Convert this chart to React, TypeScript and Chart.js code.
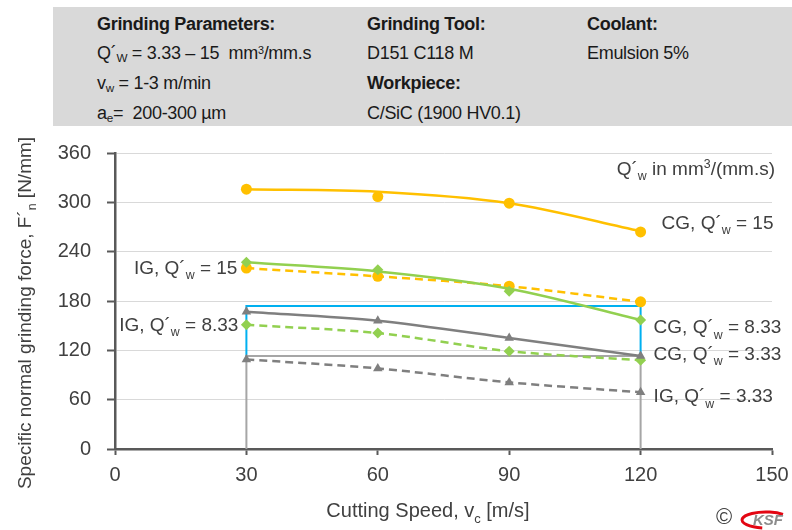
import React, { useEffect, useRef } from "react";
import { Chart, registerables } from "chart.js";

Chart.register(...registerables);

// ---- data ----
const speeds = [30, 60, 90, 120];
const cg15 = [316, 307, 299, 264];
const cg15Trend = [316, 313, 299, 265];
const ig15 = [220, 210, 198, 179];
const cg833 = [227, 218, 192, 157];
const cg833Trend = [227, 216, 195, 157];
const ig833 = [151, 141, 119, 108];
const cg333 = [167, 156, 135, 113];
const ig333 = [109, 98, 81, 69];

const blueRectX = [30, 30, 120, 120];
const blueRectY = [113, 174, 174, 113];
const greyRectX = [30, 30, 120, 120];
const greyRectY = [0, 113, 113, 0];

const xTicks = [0, 30, 60, 90, 120, 150];
const yTicks = [0, 60, 120, 180, 240, 300, 360];

const FONT = "'Liberation Sans', Arial, sans-serif";
const TXT = "#404040";
const ORANGE = "#FFC000";
const GREEN = "#92D050";
const GREY = "#7F7F7F";

const pts = (xs: number[], ys: number[]) => xs.map((x, i) => ({ x, y: ys[i] }));

type Part = { t: string; sub?: boolean; sup?: boolean };

function drawRich(ctx: CanvasRenderingContext2D, parts: Part[], x: number, yc: number, align: "left" | "right" | "center", size: number, color: string) {
  const small = size * 0.65;
  let total = 0;
  const widths = parts.map((p) => {
    ctx.font = `${p.sub || p.sup ? small : size}px ${FONT}`;
    const w = ctx.measureText(p.t).width;
    total += w;
    return w;
  });
  let cx = align === "left" ? x : align === "right" ? x - total : x - total / 2;
  const base = yc + size * 0.36;
  ctx.fillStyle = color;
  ctx.textBaseline = "alphabetic";
  ctx.textAlign = "left";
  parts.forEach((p, i) => {
    ctx.font = `${p.sub || p.sup ? small : size}px ${FONT}`;
    const dy = p.sub ? size * 0.28 : p.sup ? -size * 0.38 : 0;
    ctx.fillText(p.t, cx, base + dy);
    cx += widths[i];
  });
}

const qw = (val: string, prefix: string): Part[] => [
  { t: prefix + ", Q\u00B4" },
  { t: "w", sub: true },
  { t: " = " + val },
];

const labelsPlugin = {
  id: "labels",
  afterDraw(chart: any) {
    const ctx: CanvasRenderingContext2D = chart.ctx;
    const xs = chart.scales.x;
    const ys = chart.scales.y;
    ctx.save();
    const right = xs.getPixelForValue(120) + 13;
    const left = xs.getPixelForValue(30) - 9;
    drawRich(ctx, qw("15", "CG"), right + 8, ys.getPixelForValue(276), "left", 19, TXT);
    drawRich(ctx, qw("8.33", "CG"), right, ys.getPixelForValue(149), "left", 19, TXT);
    drawRich(ctx, qw("3.33", "CG"), right, ys.getPixelForValue(117), "left", 19, TXT);
    drawRich(ctx, qw("3.33", "IG"), right, ys.getPixelForValue(65), "left", 19, TXT);
    drawRich(ctx, qw("15", "IG"), left, ys.getPixelForValue(221.5), "right", 19, TXT);
    drawRich(ctx, qw("8.33", "IG"), left + 1, ys.getPixelForValue(152), "right", 19, TXT);
    drawRich(
      ctx,
      [{ t: "Q\u00B4" }, { t: "w", sub: true }, { t: " in mm" }, { t: "3", sup: true }, { t: "/(mm.s)" }],
      775,
      ys.getPixelForValue(341.5),
      "right",
      19,
      TXT
    );
    // axis titles
    drawRich(ctx, [{ t: "Cutting Speed, v" }, { t: "c", sub: true }, { t: " [m/s]" }], 428, 510, "center", 20, TXT);
    ctx.save();
    ctx.translate(24, 313);
    ctx.rotate(-Math.PI / 2);
    drawRich(
      ctx,
      [{ t: "Specific normal grinding force, F\u00B4" }, { t: "n", sub: true }, { t: " [N/mm]" }],
      0,
      0,
      "center",
      19,
      TXT
    );
    ctx.restore();
    // copyright + logo
    ctx.fillStyle = "#404040";
    ctx.font = `22px ${FONT}`;
    ctx.textAlign = "center";
    ctx.textBaseline = "middle";
    ctx.fillText("\u00A9", 724, 518);
    ctx.strokeStyle = "#E30613";
    ctx.lineWidth = 3;
    ctx.beginPath();
    ctx.ellipse(766, 520, 24, 8, 0, Math.PI * 0.55, Math.PI * 1.75);
    ctx.stroke();
    ctx.fillStyle = "#8C8C8C";
    ctx.font = `italic bold 15px ${FONT}`;
    ctx.fillText("KSF", 768, 521);
    ctx.restore();
  },
};

function Header() {
  const base: React.CSSProperties = {
    position: "absolute",
    fontFamily: FONT,
    fontSize: 18,
    lineHeight: "20px",
    color: "#1a1a1a",
    whiteSpace: "nowrap",
    letterSpacing: "-0.3px",
  };
  const sub: React.CSSProperties = { fontSize: "0.65em", verticalAlign: "-0.25em", lineHeight: 0 };
  const sup: React.CSSProperties = { fontSize: "0.6em", verticalAlign: "0.5em", lineHeight: 0 };
  const rows = [14, 43, 73, 103];
  return (
    <div>
      <div style={{ position: "absolute", left: 53, top: 7, width: 739, height: 119, background: "#D9D9D9" }} />
      <div style={{ ...base, left: 97, top: rows[0], fontWeight: "bold" }}>Grinding Parameters:</div>
      <div style={{ ...base, left: 97, top: rows[1] }}>
        Q{"\u00B4"}<span style={sub}>W</span> = 3.33 – 15&nbsp; mm<span style={sup}>3</span>/mm.s
      </div>
      <div style={{ ...base, left: 97, top: rows[2] }}>
        v<span style={sub}>w</span> = 1-3 m/min
      </div>
      <div style={{ ...base, left: 97, top: rows[3] }}>
        a<span style={sub}>e</span>=&nbsp; 200-300 µm
      </div>
      <div style={{ ...base, left: 367, top: rows[0], fontWeight: "bold" }}>Grinding Tool:</div>
      <div style={{ ...base, left: 367, top: rows[1] }}>D151 C118 M</div>
      <div style={{ ...base, left: 367, top: rows[2], fontWeight: "bold" }}>Workpiece:</div>
      <div style={{ ...base, left: 367, top: rows[3] }}>C/SiC (1900 HV0.1)</div>
      <div style={{ ...base, left: 587, top: rows[0], fontWeight: "bold" }}>Coolant:</div>
      <div style={{ ...base, left: 587, top: rows[1] }}>Emulsion 5%</div>
    </div>
  );
}

export default function App() {
  const ref = useRef<HTMLCanvasElement | null>(null);
  useEffect(() => {
    if (!ref.current) return;
    const lineDs = (data: number[], color: string, dashed: boolean, style: string, radius: number) => ({
      data: pts(speeds, data),
      borderColor: color,
      backgroundColor: color,
      borderWidth: 2.5,
      borderDash: dashed ? [8, 5] : [],
      pointStyle: style,
      pointRadius: radius,
      pointBorderWidth: 0,
      tension: 0.3,
      order: 5,
    });
    const trendDs = (data: number[], color: string) => ({
      data: pts(speeds, data),
      borderColor: color,
      borderWidth: 2.5,
      pointRadius: 0,
      cubicInterpolationMode: "monotone",
      order: 5,
    });
    const markDs = (data: number[], color: string, style: string, radius: number) => ({
      data: pts(speeds, data),
      showLine: false,
      borderColor: color,
      backgroundColor: color,
      pointStyle: style,
      pointRadius: radius,
      pointBorderWidth: 0,
      order: 4,
    });
    const chart = new Chart(ref.current, {
      type: "line",
      data: {
        datasets: [
          { data: pts(blueRectX, blueRectY), borderColor: "#00B0F0", borderWidth: 2, pointRadius: 0, tension: 0, order: 20 },
          { data: pts(greyRectX, greyRectY), borderColor: "#A6A6A6", borderWidth: 2, pointRadius: 0, tension: 0, order: 19 },
          lineDs(ig333, GREY, true, "triangle", 5.5),
          lineDs(cg333, GREY, false, "triangle", 5.5),
          lineDs(ig833, GREEN, true, "rectRot", 5.5),
          trendDs(cg833Trend, GREEN),
          markDs(cg833, GREEN, "rectRot", 5.5),
          lineDs(ig15, ORANGE, true, "circle", 5.5),
          trendDs(cg15Trend, ORANGE),
          markDs(cg15, ORANGE, "circle", 5.5),
        ] as any,
      },
      options: {
        animation: false,
        responsive: false,
        maintainAspectRatio: false,
        layout: { padding: { top: 153, right: 20, left: 0, bottom: 0 } },
        plugins: { legend: { display: false }, tooltip: { enabled: false } },
        scales: {
          x: {
            type: "linear",
            min: 0,
            max: 150,
            afterBuildTicks: (s: any) => {
              s.ticks = xTicks.map((v) => ({ value: v }));
            },
            afterFit: (s: any) => {
              s.height = 81;
              s.paddingRight = 0;
              s.paddingLeft = 0;
            },
            ticks: { color: TXT, font: { size: 20, family: FONT }, padding: 8, maxRotation: 0 },
            grid: { drawOnChartArea: false, tickLength: 6, tickColor: "#595959", tickWidth: 2 },
            border: { color: "#595959", width: 2.5 },
          },
          y: {
            type: "linear",
            min: 0,
            max: 360,
            afterBuildTicks: (s: any) => {
              s.ticks = yTicks.map((v) => ({ value: v }));
            },
            afterFit: (s: any) => {
              s.width = 115;
              s.paddingTop = 0;
              s.paddingBottom = 0;
            },
            ticks: { color: TXT, font: { size: 20, family: FONT }, padding: 16 },
            grid: { color: "#D9D9D9", lineWidth: 1, tickLength: 8, tickColor: "#595959", tickWidth: 2 },
            border: { color: "#595959", width: 2.5 },
          },
        },
      } as any,
      plugins: [labelsPlugin],
    });
    return () => chart.destroy();
  }, []);
  return (
    <div style={{ position: "absolute", left: 0, top: 0, width: 792, height: 530, background: "#fff" }}>
      <canvas ref={ref} width={792} height={530} style={{ position: "absolute", left: 0, top: 0, width: 792, height: 530 }} />
      <Header />
    </div>
  );
}
